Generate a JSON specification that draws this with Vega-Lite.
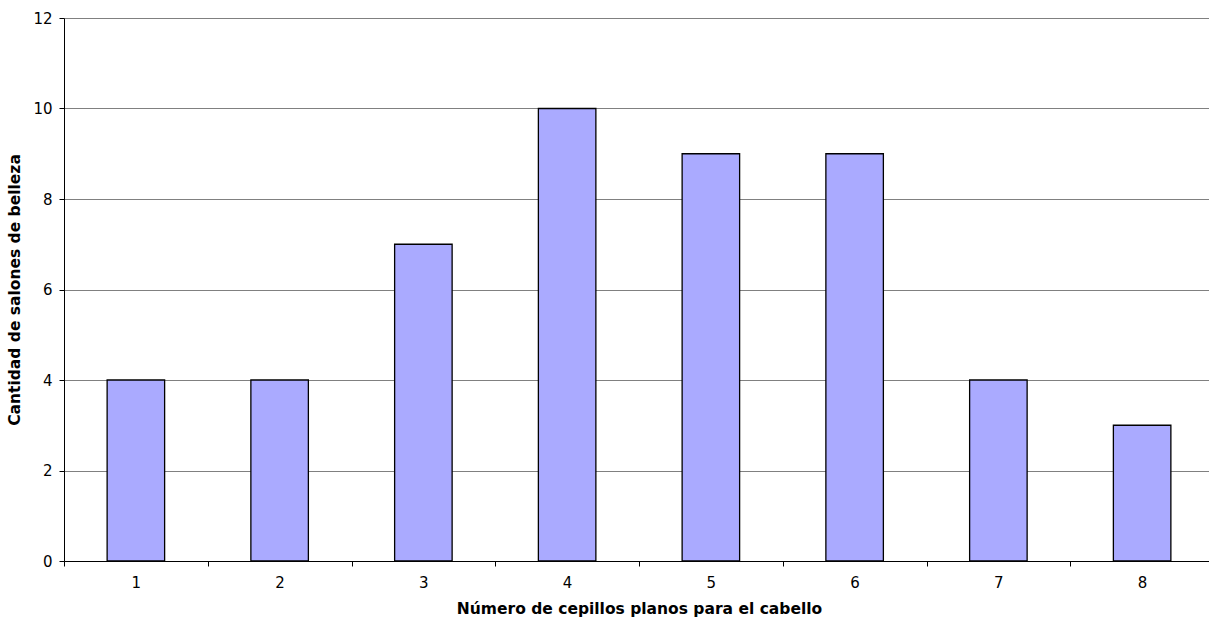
{
  "$schema": "https://vega.github.io/schema/vega-lite/v6.json",
  "width": 1150,
  "height": 543,
  "autosize": "none",
  "padding": {"left": 64, "top": 18, "right": 0, "bottom": 59},
  "background": "white",
  "config": {
    "view": {"stroke": null},
    "font": "DejaVu Sans"
  },
  "data": {
    "values": [
      {"cepillos": "1", "salones": 4},
      {"cepillos": "2", "salones": 4},
      {"cepillos": "3", "salones": 7},
      {"cepillos": "4", "salones": 10},
      {"cepillos": "5", "salones": 9},
      {"cepillos": "6", "salones": 9},
      {"cepillos": "7", "salones": 4},
      {"cepillos": "8", "salones": 3}
    ]
  },
  "mark": {"type": "bar", "color": "#AAAAFF", "stroke": "black", "strokeWidth": 1.3, "width": {"band": 0.4}},
  "encoding": {
    "x": {
      "field": "cepillos",
      "type": "ordinal",
      "scale": {"paddingInner": 0, "paddingOuter": 0},
      "axis": {
        "title": "Número de cepillos planos para el cabello",
        "titleFont": "DejaVu Sans",
        "titleFontSize": 15.5,
        "titleFontWeight": "bold",
        "titleColor": "black",
        "titlePadding": 11,
        "labelAngle": 0,
        "labelFontSize": 15,
        "labelColor": "black",
        "labelPadding": 9,
        "tickBand": "extent",
        "tickSize": 5,
        "tickColor": "black",
        "domainColor": "black",
        "grid": false
      }
    },
    "y": {
      "field": "salones",
      "type": "quantitative",
      "scale": {"domain": [0, 12]},
      "axis": {
        "title": "Cantidad de salones de belleza",
        "titleFont": "DejaVu Sans",
        "titleFontSize": 15.5,
        "titleFontWeight": "bold",
        "titleColor": "black",
        "titlePadding": 10,
        "values": [0, 2, 4, 6, 8, 10, 12],
        "labelFontSize": 15,
        "labelColor": "black",
        "labelPadding": 7,
        "tickSize": 5,
        "tickColor": "black",
        "domainColor": "black",
        "grid": true,
        "gridColor": "#808080",
        "gridWidth": 1.2,
        "gridOpacity": 1
      }
    }
  }
}
